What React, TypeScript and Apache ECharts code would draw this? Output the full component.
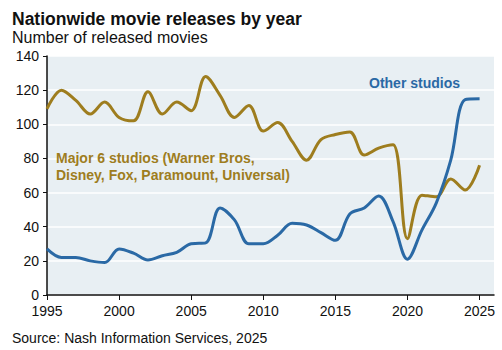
import React, { useEffect, useRef } from "react";
import * as echarts from "echarts";

const years = [1995,1996,1997,1998,1999,2000,2001,2002,2003,2004,2005,2006,2007,2008,2009,2010,2011,2012,2013,2014,2015,2016,2017,2018,2019,2020,2021,2022,2023,2024,2025];
const major6 = [109,120,114,106,113,104,102,119,106,113,108,128,117,104,111,96,101,90,79,91,94,95.5,82,86,88,33,58.5,57.5,68,61.5,76];
const others = [27,22,22,20,19,27,24.5,20.5,23,25,30,30.5,51,44,30,30,35,42,41,36.5,32,47.5,51,58,43,21,38,54,79,114.5,115];
const xTicks = [1995,2000,2005,2010,2015,2020,2025];

const GOLD = "#9e7d1e";
const BLUE = "#2a69a5";
const FONT = "Liberation Sans, Arial, sans-serif";

export default function App() {
  const ref = useRef<HTMLDivElement>(null);
  useEffect(() => {
    const chart = echarts.init(ref.current!, null, { renderer: "svg" });
    chart.setOption({
      animation: false,
      textStyle: { fontFamily: FONT },
      title: [
        { text: "Nationwide movie releases by year", left: 7, top: 5, textStyle: { fontSize: 17.5, fontWeight: "bold", color: "#111", fontFamily: FONT } },
        { text: "Number of released movies", left: 7, top: 24, textStyle: { fontSize: 16, fontWeight: "normal", color: "#111", fontFamily: FONT } },
        { text: "Source: Nash Information Services, 2025", left: 7, top: 326, textStyle: { fontSize: 14, fontWeight: "normal", color: "#111", fontFamily: FONT } },
      ],
      grid: { left: 47, right: 8, top: 56, bottom: 55, show: true, backgroundColor: "#e8eff3", borderWidth: 0 },
      xAxis: {
        type: "value", min: 1995, max: 2026,
        axisLine: { show: true, lineStyle: { color: "#111", width: 1.5 } },
        axisTick: { show: true, customValues: xTicks, length: 5, lineStyle: { color: "#111" } },
        axisLabel: { customValues: xTicks, fontSize: 14, color: "#111", margin: 9, formatter: (v: number) => String(v) },
        splitLine: { show: false },
      },
      yAxis: {
        type: "value", min: 0, max: 140, interval: 20,
        axisLine: { show: true, lineStyle: { color: "#111", width: 1.5 } },
        axisTick: { show: true, length: 4, lineStyle: { color: "#111" } },
        axisLabel: { fontSize: 14, color: "#111", margin: 8 },
        splitLine: { show: true, lineStyle: { color: "#ffffff", width: 1.5 } },
      },
      series: [
        { type: "line", data: years.map((y, i) => [y, major6[i]]), smooth: 0.35, symbol: "none", lineStyle: { color: GOLD, width: 3 } },
        { type: "line", data: years.map((y, i) => [y, others[i]]), smooth: 0.35, symbol: "none", lineStyle: { color: BLUE, width: 3 } },
      ],
      graphic: [
        { type: "text", z: 100, left: 56, top: 149, style: { text: "Major 6 studios (Warner Bros,\nDisney, Fox, Paramount, Universal)", fill: GOLD, font: `bold 14px ${FONT}`, lineHeight: 17 } },
        { type: "text", z: 100, left: 369, top: 76, style: { text: "Other studios", fill: BLUE, font: `bold 14px ${FONT}` } },
      ],
    });
    return () => chart.dispose();
  }, []);
  return <div ref={ref} style={{ width: 502, height: 350, position: "absolute", left: 0, top: 0 }} />;
}
